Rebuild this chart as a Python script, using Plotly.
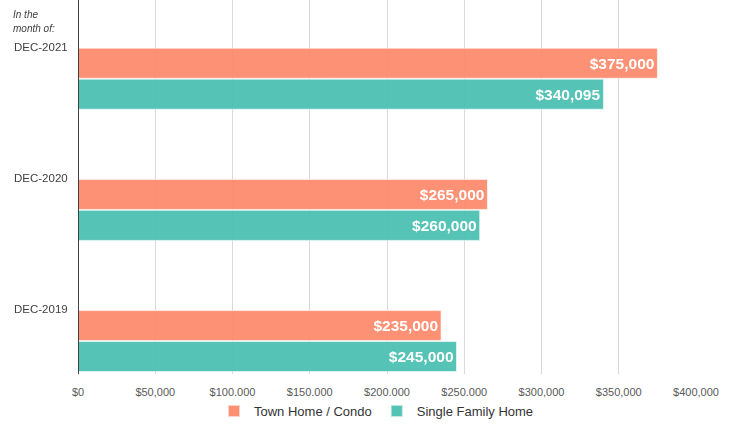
import plotly.graph_objects as go

categories = ["DEC-2019", "DEC-2020", "DEC-2021"]
town_home = [235000, 265000, 375000]
single_family = [245000, 260000, 340095]
series_names = ["Town Home / Condo", "Single Family Home"]
tick_vals = [0, 50000, 100000, 150000, 200000, 250000, 300000, 350000, 400000]
tick_text = ["$0", "$50,000", "$100,000", "$150,000", "$200,000", "$250,000",
             "$300,000", "$350,000", "$400,000"]

ORANGE = "#FC8A6C"
TEAL = "#4ABFB1"
FONT = "Liberation Sans Narrow, Liberation Sans, Arial"

def fmt(v):
    return "${:,}".format(v)

fig = go.Figure()
fig.add_trace(go.Bar(
    y=categories, x=single_family, name=series_names[1], orientation="h",
    marker=dict(color=TEAL, line=dict(color="rgba(255,255,255,0.6)", width=1)),
    text=[fmt(v) for v in single_family], textposition="inside",
    insidetextanchor="end",
    textfont=dict(family="Liberation Sans, Arial", size=15.5, color="white", weight="bold"),
    opacity=0.94,
))
fig.add_trace(go.Bar(
    y=categories, x=town_home, name=series_names[0], orientation="h",
    marker=dict(color=ORANGE, line=dict(color="rgba(255,255,255,0.6)", width=1)),
    text=[fmt(v) for v in town_home], textposition="inside",
    insidetextanchor="end",
    textfont=dict(family="Liberation Sans, Arial", size=15.5, color="white", weight="bold"),
    opacity=0.94,
))

annotations = [
    dict(text="<i>In the</i>", xref="paper", yref="paper", x=-0.109, y=1.0, yshift=-14,
         xanchor="left", yanchor="middle", showarrow=False,
         font=dict(family=FONT, size=10, color="#404040")),
    dict(text="<i>month of:</i>", xref="paper", yref="paper", x=-0.109, y=1.0, yshift=-28,
         xanchor="left", yanchor="middle", showarrow=False,
         font=dict(family=FONT, size=10, color="#404040")),
]
for c in categories:
    annotations.append(dict(
        text=c, xref="paper", yref="y", x=-0.013, y=c, yshift=32,
        xanchor="right", yanchor="middle", showarrow=False,
        font=dict(family=FONT, size=11.5, color="#404040")))

fig.update_layout(
    width=731, height=426,
    margin=dict(l=77.5, r=35, t=0, b=51),
    paper_bgcolor="white", plot_bgcolor="white",
    barmode="group", bargap=0.528, bargroupgap=0.03,
    showlegend=True,
    legend=dict(orientation="h", x=0.483, xanchor="center", y=-0.1, yanchor="middle",
                traceorder="reversed",
                font=dict(family=FONT, size=13, color="#333333"),
                itemwidth=30, itemsizing="constant"),
    annotations=annotations,
    xaxis=dict(range=[0, 400000], tickvals=tick_vals, ticktext=tick_text,
               showgrid=True, gridcolor="#D9D9D9", gridwidth=1, zeroline=False,
               ticks="", ticklabelstandoff=10,
               tickfont=dict(family=FONT, size=11, color="#595959"),
               fixedrange=True),
    yaxis=dict(range=[-0.251, 2.6], showticklabels=False, showgrid=False, zeroline=False,
               showline=False, ticks="", fixedrange=True),
    shapes=[dict(type="line", xref="x", yref="paper", x0=0, x1=0, y0=0, y1=1,
                 line=dict(color="#404040", width=2), layer="above")],
)

fig.write_html("out.html", config={"displayModeBar": False},
               post_script="document.body.style.margin='0';")
